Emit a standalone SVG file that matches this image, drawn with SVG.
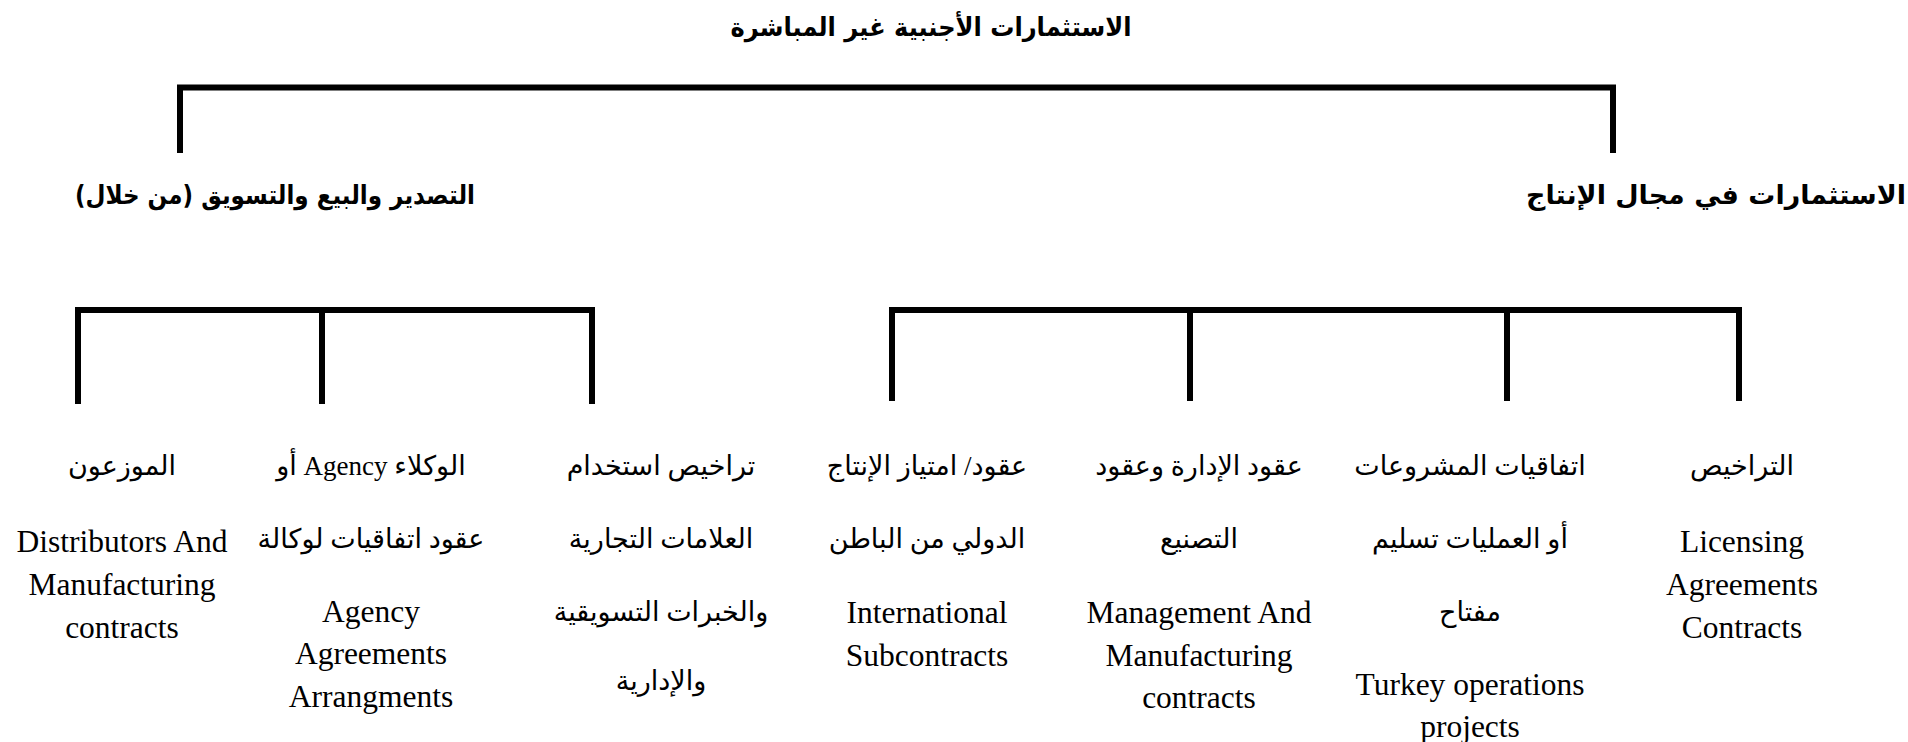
<svg xmlns="http://www.w3.org/2000/svg" width="1908" height="742" viewBox="0 0 1908 742">
<style>
.bg{fill:#fff}
.ln{fill:none;stroke:#000;stroke-width:6;stroke-linejoin:miter;stroke-linecap:butt}
.hd{font-family:"DejaVu Sans",sans-serif;font-weight:bold;font-size:26px;fill:#000}
.ar{font-family:"Liberation Serif","DejaVu Sans",serif;font-size:27px;fill:#000}
.en{font-family:"Liberation Serif",serif;font-size:31.5px;fill:#000}
</style>
<rect class="bg" x="0" y="0" width="1908" height="742"/>
<g id="connectors">
<path class="ln" d="M180,153 V87.5 H1613 V153"/>
<path class="ln" d="M78,404 V310 H592 V404"/>
<path class="ln" d="M322,310 V404"/>
<path class="ln" d="M892,401 V310 H1739 V401"/>
<path class="ln" d="M1190,310 V401"/>
<path class="ln" d="M1507,310 V401"/>
</g>
<g id="root"><text class="hd" x="931" y="36" text-anchor="middle" direction="rtl" textLength="401" lengthAdjust="spacingAndGlyphs">الاستثمارات الأجنبية غير المباشرة</text></g>
<g id="export"><text class="hd" x="275" y="204" text-anchor="middle" direction="rtl" textLength="400" lengthAdjust="spacingAndGlyphs">التصدير والبيع والتسويق (من خلال)</text></g>
<g id="production"><text class="hd" x="1906" y="204" text-anchor="start" direction="rtl" textLength="380" lengthAdjust="spacingAndGlyphs">الاستثمارات في مجال الإنتاج</text></g>
<g id="distributors">
<text class="ar" x="122" y="475" text-anchor="middle" direction="rtl">الموزعون</text>
<text class="en" x="122" y="552" text-anchor="middle">Distributors And</text>
<text class="en" x="122" y="595" text-anchor="middle">Manufacturing</text>
<text class="en" x="122" y="638" text-anchor="middle">contracts</text>
</g>
<g id="agency">
<text class="ar" x="371" y="475" text-anchor="middle" direction="rtl">الوكلاء Agency أو</text>
<text class="ar" x="371" y="548" text-anchor="middle" direction="rtl">عقود اتفاقيات لوكالة</text>
<text class="en" x="371" y="622" text-anchor="middle">Agency</text>
<text class="en" x="371" y="664" text-anchor="middle">Agreements</text>
<text class="en" x="371" y="707" text-anchor="middle">Arrangments</text>
</g>
<g id="trademarks">
<text class="ar" x="661" y="475" text-anchor="middle" direction="rtl">تراخيص استخدام</text>
<text class="ar" x="661" y="548" text-anchor="middle" direction="rtl">العلامات التجارية</text>
<text class="ar" x="661" y="621" text-anchor="middle" direction="rtl">والخبرات التسويقية</text>
<text class="ar" x="661" y="690" text-anchor="middle" direction="rtl">والإدارية</text>
</g>
<g id="subcontracts">
<text class="ar" x="927" y="475" text-anchor="middle" direction="rtl">عقود/ امتياز الإنتاج</text>
<text class="ar" x="927" y="548" text-anchor="middle" direction="rtl">الدولي من الباطن</text>
<text class="en" x="927" y="623" text-anchor="middle">International</text>
<text class="en" x="927" y="666" text-anchor="middle">Subcontracts</text>
</g>
<g id="management">
<text class="ar" x="1199" y="475" text-anchor="middle" direction="rtl">عقود الإدارة وعقود</text>
<text class="ar" x="1199" y="548" text-anchor="middle" direction="rtl">التصنيع</text>
<text class="en" x="1199" y="623" text-anchor="middle">Management And</text>
<text class="en" x="1199" y="666" text-anchor="middle">Manufacturing</text>
<text class="en" x="1199" y="708" text-anchor="middle">contracts</text>
</g>
<g id="turnkey">
<text class="ar" x="1470" y="475" text-anchor="middle" direction="rtl">اتفاقيات المشروعات</text>
<text class="ar" x="1470" y="548" text-anchor="middle" direction="rtl">أو العمليات تسليم</text>
<text class="ar" x="1470" y="621" text-anchor="middle" direction="rtl">مفتاح</text>
<text class="en" x="1470" y="695" text-anchor="middle">Turkey operations</text>
<text class="en" x="1470" y="737" text-anchor="middle">projects</text>
</g>
<g id="licensing">
<text class="ar" x="1742" y="475" text-anchor="middle" direction="rtl">التراخيص</text>
<text class="en" x="1742" y="552" text-anchor="middle">Licensing</text>
<text class="en" x="1742" y="595" text-anchor="middle">Agreements</text>
<text class="en" x="1742" y="638" text-anchor="middle">Contracts</text>
</g>
</svg>
